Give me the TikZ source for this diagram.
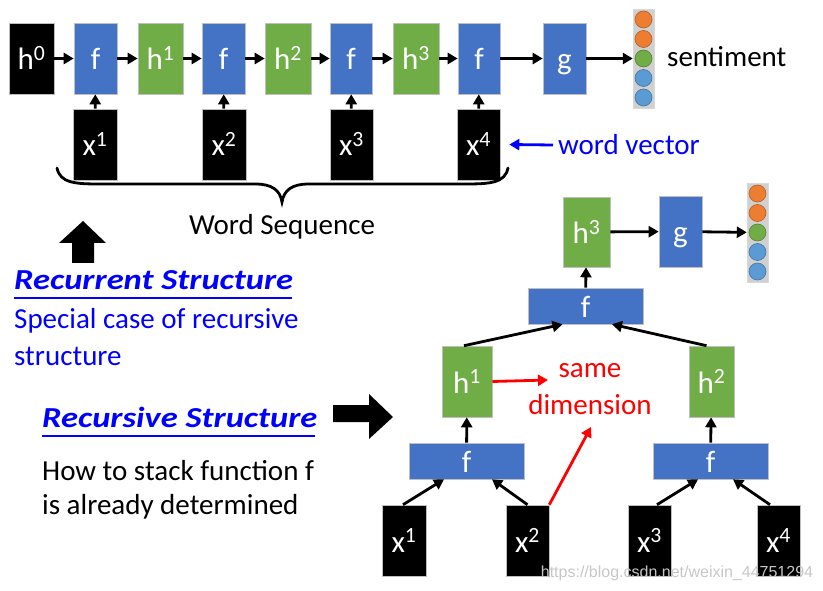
\documentclass[tikz,border=0pt]{standalone}
\usepackage{fontspec}
\setmainfont{Carlito}
\newfontfamily\wmfont{Liberation Sans}
\usetikzlibrary{arrows.meta}
\definecolor{fblue}{HTML}{4472C4}
\definecolor{hgreen}{HTML}{70AD47}
\definecolor{corange}{HTML}{ED7D31}
\definecolor{clblue}{HTML}{5B9BD5}
\definecolor{colgray}{HTML}{D0D0D0}
\definecolor{pureblue}{HTML}{0000FF}
\definecolor{purered}{HTML}{FF0000}
\newcommand{\widen}[1]{\scalebox{1.19}[1]{#1}}
\begin{document}
\begin{tikzpicture}[x=1pt,y=-1pt,
  bx/.style={inner sep=0pt, draw=black!25, line width=0.6pt, text=white,
    minimum height=71pt, text height=23pt, text depth=0pt, font=\fontsize{31}{36}\selectfont},
  fbox/.style={bx, fill=fblue},
  hbox/.style={bx, fill=hgreen},
  kbox/.style={bx, fill=black},
  widef/.style={fbox, minimum width=115pt, minimum height=36pt},
  colbox/.style={inner sep=0pt, fill=colgray, draw=black!15, minimum width=21pt, minimum height=99pt},
  circ/.style={circle, inner sep=0pt, minimum size=17pt, line width=0.6pt},
  arr/.style={-{Triangle[length=10pt,width=11pt]}, line width=2.8pt},
  txt/.style={inner sep=0pt, font=\fontsize{29}{34}\selectfont},
  ttl/.style={inner sep=0pt, font=\fontsize{29}{34}\selectfont\bfseries\itshape, text=pureblue},
  blk/.style={fill=black, draw=none}
]
\useasboundingbox (0,0) rectangle (823,591);

% ---------- top row ----------
\node[kbox, minimum width=45pt] (h0) at (31.5,58.5) {h\textsuperscript{0}};
\node[fbox, minimum width=43pt] (f1) at (95.5,58.5) {f};
\node[hbox, minimum width=45pt] (h1) at (160.5,58.5) {h\textsuperscript{1}};
\node[fbox, minimum width=43pt] (f2) at (223.5,58.5) {f};
\node[hbox, minimum width=46pt] (h2) at (288,58.5) {h\textsuperscript{2}};
\node[fbox, minimum width=42pt] (f3) at (351,58.5) {f};
\node[hbox, minimum width=46pt] (h3) at (416,58.5) {h\textsuperscript{3}};
\node[fbox, minimum width=42pt] (f4) at (479,58.5) {f};
\node[fbox, minimum width=43pt] (g) at (564.5,58.5) {g};
\node[colbox] (vec) at (643.5,58.5) {};
\foreach \c [count=\i] in {corange,corange,hgreen,clblue,clblue}
  \node[circ, fill=\c, draw=\c!75!black] (va\i) at (643.5,{19.5*\i}) {};
\node[txt, anchor=west] (sent) at (667,57) {sentiment};

\node[kbox, minimum width=44pt] (x1) at (95,144.5) {x\textsuperscript{1}};
\node[kbox, minimum width=44pt] (x2) at (224,144.5) {x\textsuperscript{2}};
\node[kbox, minimum width=43pt] (x3) at (351.5,144.5) {x\textsuperscript{3}};
\node[kbox, minimum width=43pt] (x4) at (478.5,144.5) {x\textsuperscript{4}};

\draw[arr] (h0) -- (f1);
\draw[arr] (f1) -- (h1);
\draw[arr] (h1) -- (f2);
\draw[arr] (f2) -- (h2);
\draw[arr] (h2) -- (f3);
\draw[arr] (f3) -- (h3);
\draw[arr] (h3) -- (f4);
\draw[arr] (f4) -- (g);
\draw[arr] (g) -- (vec);
\draw[arr] (x1) -- (f1);
\draw[arr] (x2) -- (f2);
\draw[arr] (x3) -- (f3);
\draw[arr] (x4) -- (f4);

\node[txt, anchor=west, text=pureblue] (wv) at (558,145) {word vector};
\draw[arr, pureblue] ([xshift=-5pt]wv.west) -- ([xshift=9pt]x4.east);

% brace
\draw[line width=2.8pt, line cap=round] (57,168) .. controls (60,183) and (75,184) .. (100,184)
  -- (255,184) .. controls (272,184) and (280,190) .. (282,202)
  .. controls (284,190) and (292,184) .. (309,184)
  -- (465,184) .. controls (490,184) and (505,183) .. (508,168);
\node[txt] (ws) at (282,227) {Word Sequence};

% block arrows
\fill[blk] (83,221) -- (106,243) -- (94,243) -- (94,263) -- (72,263) -- (72,243) -- (59,243) -- cycle;
\fill[blk] (393,417) -- (369,394) -- (369,405) -- (333,405) -- (333,422) -- (369,422) -- (369,439) -- cycle;

% left texts
\node[ttl, anchor=west] (rec) at (14,280) {\widen{Recurrent Structure}};
\draw[pureblue, line width=1.6pt] (14,298) -- (292,298);
\node[txt, anchor=west, text=pureblue] (sp1) at (14,321) {Special case of recursive};
\node[txt, anchor=west, text=pureblue] (sp2) at (14,356) {structure};

\node[ttl, anchor=west] (recs) at (42,417) {\widen{Recursive Structure}};
\draw[pureblue, line width=1.6pt] (42,436) -- (315,436);
\node[txt, anchor=west] (hw1) at (42,471) {How to stack function f};
\node[txt, anchor=west] (hw2) at (42,507) {is already determined};

% ---------- tree ----------
\node[hbox, minimum width=47pt, minimum height=70pt] (th3) at (586.5,232) {h\textsuperscript{3}};
\node[fbox, minimum width=43pt] (tg) at (680.5,231.5) {g};
\node[colbox] (tvec) at (757.5,232.5) {};
\foreach \c [count=\i] in {corange,corange,hgreen,clblue,clblue}
  \node[circ, fill=\c, draw=\c!75!black] (vb\i) at (757.5,{174+19.5*\i}) {};
\node[widef] (tf) at (585.5,306) {f};
\node[hbox, minimum width=50pt] (th1) at (467,381.5) {h\textsuperscript{1}};
\node[hbox, minimum width=45pt] (th2) at (711.5,381.5) {h\textsuperscript{2}};
\node[widef] (tfl) at (466.5,461) {f};
\node[widef] (tfr) at (710.5,461) {f};
\node[kbox, minimum width=44pt] (tx1) at (404,540.5) {x\textsuperscript{1}};
\node[kbox, minimum width=43pt] (tx2) at (527.5,540.5) {x\textsuperscript{2}};
\node[kbox, minimum width=43pt] (tx3) at (649.5,540.5) {x\textsuperscript{3}};
\node[kbox, minimum width=43pt] (tx4) at (778.5,540.5) {x\textsuperscript{4}};

\draw[arr] (th3) -- (tg);
\draw[arr] (tg) -- (tvec);
\draw[arr] (tf) -- (th3);
\draw[arr] ([xshift=-3pt]th1.north) -- ([xshift=-23pt]tf.south);
\draw[arr] ([xshift=-5pt]th2.north) -- ([xshift=26.5pt]tf.south);
\draw[arr] (tfl) -- (th1);
\draw[arr] (tfr) -- (th2);
\draw[arr] ([xshift=-1pt]tx1.north) -- ([xshift=-22.5pt]tfl.south);
\draw[arr] (tx2.north) -- ([xshift=25.5pt]tfl.south);
\draw[arr] ([xshift=7.5pt]tx3.north) -- ([xshift=-12.5pt]tfr.south);
\draw[arr] ([xshift=-8.5pt]tx4.north) -- ([xshift=22.5pt]tfr.south);

\node[txt, text=purered] (same) at (590,371) {same};
\node[txt, text=purered] (dim) at (590,405) {dimension};
\coordinate (rt1) at (548,380);
\coordinate (rt2) at (591,427);
\draw[arr, purered] (th1.east) -- (rt1);
\draw[arr, purered] (tx2.north east) -- (rt2);

\node[inner sep=0pt, text=black!22, font=\wmfont\fontsize{16}{18}\selectfont] (wm) at (677,573) {https://blog.csdn.net/weixin\_44751294};
\end{tikzpicture}
\end{document}
